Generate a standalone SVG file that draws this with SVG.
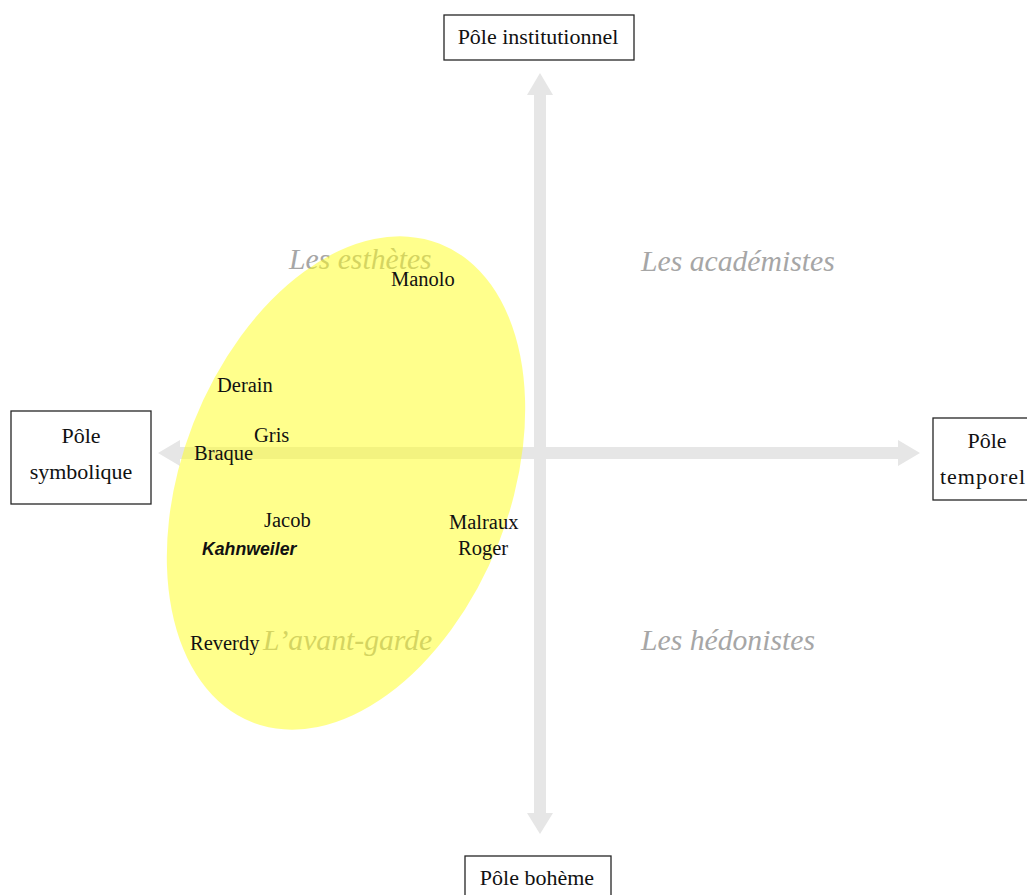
<svg xmlns="http://www.w3.org/2000/svg" width="1027" height="895" viewBox="0 0 1027 895">
<style>
.box{fill:#fff;stroke:#262626;stroke-width:1.3}
.pole{font-family:"Liberation Serif",serif;font-size:22px;fill:#111;text-anchor:middle}
.name{font-family:"Liberation Serif",serif;font-size:20.5px;fill:#111}
.quad{font-family:"Liberation Serif",serif;font-size:29.7px;font-style:italic;fill:#a6a6a6}
.axis{fill:#e6e6e6}
.kahn{font-family:"Liberation Sans",Arial,sans-serif;font-size:17.7px;font-style:italic;font-weight:bold;fill:#111}
</style>
<rect width="1027" height="895" fill="#fff"/>
<g id="connectors">
<polygon class="axis" points="534,95 527,95 540,73 553,95 546,95 546,813 553,813 540,834 527,813 534,813"/>
<polygon class="axis" points="180,447 180,440 158,453 180,466 180,459 898,459 898,466 920,453 898,440 898,447"/>
</g>
<g id="quadrants">
<text class="quad" x="289" y="269">Les esthètes</text>
<text class="quad" x="641" y="271">Les académistes</text>
<text class="quad" x="641" y="650">Les hédonistes</text>
<text class="quad" x="263" y="650">L’avant-garde</text>
</g>
<ellipse id="avant-garde-zone" cx="346" cy="483" rx="164" ry="257" transform="rotate(21.4 346 483)" fill="#ffff22" fill-opacity="0.52"/>
<g id="pole-institutionnel"><rect class="box" x="444" y="15" width="190" height="45"/><text class="pole" x="538" y="44">Pôle institutionnel</text></g>
<g id="pole-symbolique"><rect class="box" x="11" y="411" width="140" height="93"/><text class="pole" x="81" y="443">Pôle</text><text class="pole" x="81" y="479">symbolique</text></g>
<g id="pole-temporel"><rect class="box" x="933" y="418" width="110" height="82"/><text class="pole" x="987" y="448">Pôle</text><text class="pole" x="983" y="484" letter-spacing="1">temporel</text></g>
<g id="pole-boheme"><rect class="box" x="465" y="856" width="146" height="50"/><text class="pole" x="537" y="885">Pôle bohème</text></g>
<g id="names">
<text id="manolo" class="name" x="391" y="286">Manolo</text>
<text id="derain" class="name" x="217" y="392">Derain</text>
<text id="gris" class="name" x="254" y="442">Gris</text>
<text id="braque" class="name" x="194" y="460">Braque</text>
<text id="jacob" class="name" x="264" y="527">Jacob</text>
<text id="kahnweiler" class="kahn" x="202" y="555">Kahnweiler</text>
<text id="malraux" class="name" x="449" y="529">Malraux</text>
<text id="roger" class="name" x="458" y="555">Roger</text>
<text id="reverdy" class="name" x="190" y="650">Reverdy</text>
</g>
</svg>
